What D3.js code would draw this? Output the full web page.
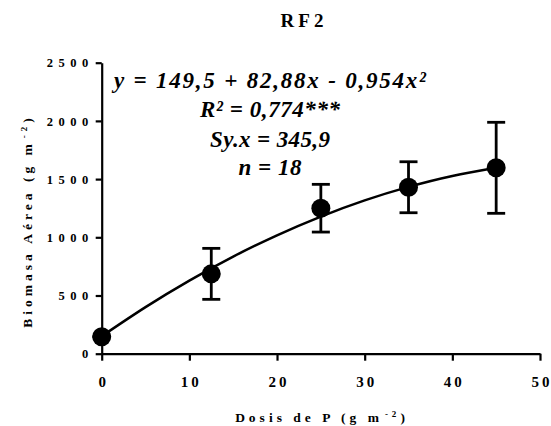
<!DOCTYPE html>
<html><head><meta charset="utf-8">
<script src="https://cdn.jsdelivr.net/npm/d3@7"></script>
<style>body{margin:0;background:#fff} svg{display:block}</style>
</head><body><svg id="c" width="551" height="426"></svg>
<script>
// Data
const doses = [0, 12.5, 25, 35, 45];
const biomass = [146, 686, 1250, 1430, 1597];
const errors = [0, 219, 205, 219, 391];
const fitDoses = [0, 5, 10, 15, 20, 25, 30, 35, 40, 45];
const fitBiomass = [150, 400, 628, 834, 1017, 1178, 1317, 1433, 1527, 1598];
const xTickValues = [0, 10, 20, 30, 40, 50];
const yTickValues = [0, 500, 1000, 1500, 2000, 2500];
const chartTitle = "RF2";
const xTitle = ["Dosis de P (g m", "-2", ")"];
const yTitle = ["Biomasa Aérea (g m", "-2", ")"];
const equationLines = ["y = 149,5 + 82,88x - 0,954x²", "R² = 0,774***", "Sy.x = 345,9", "n = 18"];

const serif = "'Liberation Serif', 'Times New Roman', serif";
const svg = d3.select('#c');
const x = d3.scaleLinear().domain([0, 50]).range([101.7, 540]);
const y = d3.scaleLinear().domain([0, 2500]).range([353.7, 62.7]);
const axisW = 2.2;

// Title
svg.append('text').text(chartTitle)
  .attr('x', 304).attr('y', 27).attr('text-anchor', 'middle')
  .style('font-family', serif).attr('font-weight', 'bold').attr('font-size', 19)
  .attr('letter-spacing', 4);

// X axis
const gx = svg.append('g').attr('transform', 'translate(0,353.7)')
  .call(d3.axisBottom(x).tickValues(xTickValues).tickSize(7).tickSizeOuter(0).tickFormat(d3.format('d')));
gx.select('.domain').attr('stroke', '#000').attr('stroke-width', axisW);
gx.selectAll('.tick line').attr('stroke', '#000').attr('stroke-width', axisW);
gx.selectAll('.tick text').attr('y', 33).attr('dy', 0).attr('dx', 1.5)
  .attr('fill', '#000').style('font-family', serif).attr('font-weight', 'bold')
  .attr('font-size', 15).attr('letter-spacing', 3);

// Y axis
const gy = svg.append('g').attr('transform', 'translate(101.7,0)')
  .call(d3.axisLeft(y).tickValues(yTickValues).tickSize(6).tickSizeOuter(0).tickFormat(d3.format('d')));
gy.select('.domain').attr('stroke', '#000').attr('stroke-width', axisW);
gy.selectAll('.tick line').attr('stroke', '#000').attr('stroke-width', axisW);
gy.selectAll('.tick text').attr('x', -8).attr('dy', '0.34em')
  .attr('fill', '#000').style('font-family', serif).attr('font-weight', 'bold')
  .attr('font-size', 12.5).attr('letter-spacing', 5.5);

// Axis titles
function titleWithSup(sel, parts) {
  sel.append('tspan').text(parts[0]);
  sel.append('tspan').text(parts[1]).attr('font-size', 9).attr('dy', -5).attr('dx', 2);
  sel.append('tspan').text(parts[2]).attr('dy', 5);
}
const xt = svg.append('text').attr('x', 322).attr('y', 422)
  .attr('text-anchor', 'middle').style('font-family', serif).attr('font-weight', 'bold')
  .attr('font-size', 13.5).attr('letter-spacing', 4);
titleWithSup(xt, xTitle);
const yt = svg.append('text').attr('transform', 'translate(32,221) rotate(-90)')
  .attr('text-anchor', 'middle').style('font-family', serif).attr('font-weight', 'bold')
  .attr('font-size', 13.5).attr('letter-spacing', 4);
titleWithSup(yt, yTitle);

// Fitted curve
const line = d3.line().x(d => x(d[0])).y(d => y(d[1])).curve(d3.curveNatural);
svg.append('path').datum(fitDoses.map((d, i) => [d, fitBiomass[i]]))
  .attr('d', line).attr('fill', 'none').attr('stroke', '#000').attr('stroke-width', 2.5);

// Error bars
const pts = doses.map((d, i) => ({ x: d, y: biomass[i], e: errors[i] }));
const eb = svg.append('g').attr('stroke', '#000').attr('stroke-width', 2.8);
eb.selectAll('line.v').data(pts).join('line').attr('class', 'v')
  .attr('x1', d => x(d.x)).attr('x2', d => x(d.x))
  .attr('y1', d => y(d.y + d.e)).attr('y2', d => y(d.y - d.e));
eb.selectAll('line.t').data(pts).join('line').attr('class', 't')
  .attr('x1', d => x(d.x) - 9).attr('x2', d => x(d.x) + 9)
  .attr('y1', d => y(d.y + d.e)).attr('y2', d => y(d.y + d.e));
eb.selectAll('line.b').data(pts).join('line').attr('class', 'b')
  .attr('x1', d => x(d.x) - 9).attr('x2', d => x(d.x) + 9)
  .attr('y1', d => y(d.y - d.e)).attr('y2', d => y(d.y - d.e));

// Points
svg.append('g').selectAll('circle').data(pts).join('circle')
  .attr('cx', d => x(d.x)).attr('cy', d => y(d.y)).attr('r', 9.5).attr('fill', '#000');

// Equation block
const eqY = [88.3, 117.3, 146.5, 175];
const eqW = [312, 140, 120, 63];
svg.append('g').selectAll('text').data(equationLines).join('text')
  .text(d => d)
  .attr('x', 270).attr('y', (d, i) => eqY[i]).attr('text-anchor', 'middle')
  .style('font-family', serif).attr('font-weight', 'bold').attr('font-style', 'italic')
  .attr('font-size', 23)
  .attr('textLength', (d, i) => eqW[i]).attr('lengthAdjust', 'spacing');
</script></body></html>
